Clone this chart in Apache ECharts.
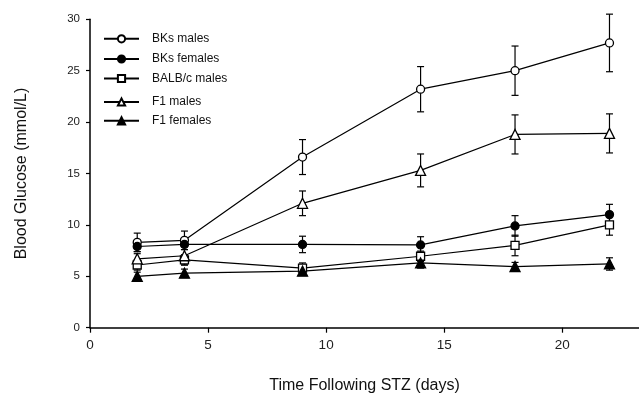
<!DOCTYPE html>
<html>
<head>
<meta charset="utf-8">
<script src="https://cdn.jsdelivr.net/npm/echarts@6/dist/echarts.min.js"></script>
<style>html,body{margin:0;padding:0;background:#fff}#c{width:639px;height:399px}</style>
</head>
<body>
<div id="c"></div>
<script>
var days = [2, 4, 9, 14, 18, 22];
var bksMales = [8.3, 8.5, 16.6, 23.2, 25.0, 27.7];
var bksMalesErr = [0.9, 0.9, 1.7, 2.2, 2.4, 2.8];
var bksFemales = [7.9, 8.1, 8.1, 8.05, 9.9, 11.0];
var bksFemalesErr = [0.5, 0.5, 0.8, 0.8, 1.0, 1.0];
var balbMales = [6.1, 6.6, 5.8, 6.95, 8.0, 10.0];
var balbMalesErr = [0.5, 0.5, 0.5, 0.5, 1.0, 1.0];
var f1Males = [6.7, 7.0, 12.1, 15.3, 18.8, 18.9];
var f1MalesErr = [0.5, 0.9, 1.2, 1.6, 1.9, 1.9];
var f1Females = [5.0, 5.3, 5.5, 6.3, 5.95, 6.2];
var f1FemalesErr = [0.4, 0.4, 0.4, 0.5, 0.4, 0.6];
var names = ['BKs males', 'BKs females', 'BALB/c males', 'F1 males', 'F1 females'];
var xTicks = [0, 5, 10, 15, 20];
var yTicks = [0, 5, 10, 15, 20, 25, 30];

var FONT = 'Liberation Sans, Arial, Helvetica, sans-serif';

var groups = [
  {name: names[0], vals: bksMales, err: bksMalesErr, symbol: 'circle', open: true, size: 8},
  {name: names[1], vals: bksFemales, err: bksFemalesErr, symbol: 'circle', open: false, size: 8},
  {name: names[2], vals: balbMales, err: balbMalesErr, symbol: 'rect', open: true, size: 8},
  {name: names[3], vals: f1Males, err: f1MalesErr, symbol: 'triangle', open: true, size: 10},
  {name: names[4], vals: f1Females, err: f1FemalesErr, symbol: 'triangle', open: false, size: 10}
];

var series = [];
groups.forEach(function (g) {
  series.push({
    type: 'custom',
    name: g.name + ' err',
    z: 1,
    silent: true,
    data: days.map(function (d, i) { return [d, g.vals[i], g.err[i]]; }),
    renderItem: function (params, api) {
      var x = api.value(0), y = api.value(1), e = api.value(2);
      var top = api.coord([x, y + e]);
      var bot = api.coord([x, y - e]);
      var hw = 3.5;
      var st = {stroke: '#000', lineWidth: 1.2};
      return {type: 'group', children: [
        {type: 'line', shape: {x1: top[0], y1: top[1], x2: bot[0], y2: bot[1]}, style: st},
        {type: 'line', shape: {x1: top[0] - hw, y1: top[1], x2: top[0] + hw, y2: top[1]}, style: st},
        {type: 'line', shape: {x1: bot[0] - hw, y1: bot[1], x2: bot[0] + hw, y2: bot[1]}, style: st}
      ]};
    }
  });
  series.push({
    type: 'line',
    name: g.name,
    z: 3,
    data: days.map(function (d, i) { return [d, g.vals[i]]; }),
    symbol: g.symbol,
    symbolSize: g.size,
    showAllSymbol: true,
    lineStyle: {color: '#000', width: 1.2},
    itemStyle: {color: g.open ? '#fff' : '#000', borderColor: '#000', borderWidth: 1.3, opacity: 1},
    emphasis: {disabled: true}
  });
});

var legendTops = [37.3, 57.5, 77, 100.5, 119.3];
var legends = names.map(function (n, i) {
  return {
    data: [n],
    left: 98,
    top: legendTops[i] - 4.5 - 5,
    itemWidth: 35,
    itemHeight: 9,
    selectedMode: false,
    textStyle: {fontFamily: FONT, fontSize: 12, color: '#111', padding: [0, 0, 0, 8]}
  };
});

var chart = echarts.init(document.getElementById('c'), null, {renderer: 'canvas'});
chart.setOption({
  animation: false,
  backgroundColor: '#fff',
  legend: legends,
  grid: {left: 90, right: 0, top: 19.3, bottom: 71.3, containLabel: false, outerBoundsMode: 'none'},
  xAxis: {
    type: 'value', min: 0, max: 23.25, interval: 5,
    name: 'Time Following STZ (days)', nameLocation: 'middle', nameGap: 49.5,
    nameTextStyle: {fontFamily: FONT, fontSize: 16, color: '#111'},
    axisLine: {lineStyle: {color: '#000', width: 1.5}},
    axisTick: {length: 5, lineStyle: {color: '#000', width: 1.2}},
    axisLabel: {showMaxLabel: false, margin: 11, fontFamily: FONT, fontSize: 13.5, color: '#222',
      formatter: function (v) { return xTicks.indexOf(v) >= 0 ? String(v) : ''; }},
    splitLine: {show: false}
  },
  yAxis: {
    type: 'value', min: 0, max: 30, interval: 5,
    name: 'Blood Glucose (mmol/L)', nameLocation: 'middle', nameGap: 60, nameRotate: 90,
    nameTextStyle: {fontFamily: FONT, fontSize: 16, color: '#111'},
    axisLine: {show: true, lineStyle: {color: '#000', width: 1.5}},
    axisTick: {show: true, length: 4, lineStyle: {color: '#000', width: 1.2}},
    axisLabel: {margin: 10, fontFamily: FONT, fontSize: 11.5, color: '#222',
      formatter: function (v) { return yTicks.indexOf(v) >= 0 ? String(v) : ''; }},
    splitLine: {show: false}
  },
  series: series
});
</script>
</body>
</html>
